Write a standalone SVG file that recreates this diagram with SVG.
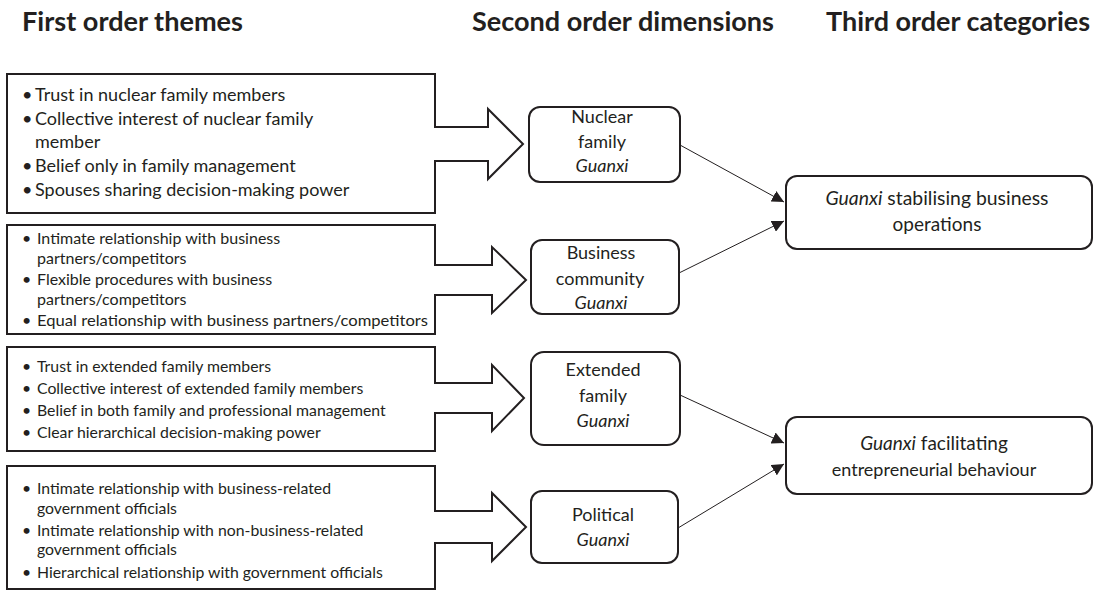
<svg xmlns="http://www.w3.org/2000/svg" width="1096" height="591" viewBox="0 0 1096 591">
<defs>
<style>
.title{font-family:Lato,"Liberation Sans",sans-serif;font-weight:bold;font-size:27px;fill:#231f20}
.t{font-family:Lato,"Liberation Sans",sans-serif;fill:#231f20}
.b1{font-size:18px}
.b2{font-size:16px}
.b3{font-size:15.8px}
.n{font-size:18px;text-anchor:middle}
.c{font-size:19px;text-anchor:middle}
.box{fill:#fff;stroke:#231f20;stroke-width:2}
.rbox{fill:#fff;stroke:#231f20;stroke-width:2}
.con{stroke:#231f20;stroke-width:1;fill:none;marker-end:url(#ah)}
</style>
<marker id="ah" viewBox="0 0 12 12" refX="12" refY="6" markerWidth="12" markerHeight="12" markerUnits="userSpaceOnUse" orient="auto">
<path d="M0,0 L12,6 L0,12 Z" fill="#231f20"/>
</marker>
</defs>
<rect width="1096" height="591" fill="#fff"/>
<g id="titles">
<text class="title" x="22" y="31" textLength="221" lengthAdjust="spacingAndGlyphs">First order themes</text>
<text class="title" x="472" y="31" textLength="302" lengthAdjust="spacingAndGlyphs">Second order dimensions</text>
<text class="title" x="826" y="31" textLength="264" lengthAdjust="spacingAndGlyphs">Third order categories</text>
</g>
<g id="theme1">
<path class="box" d="M7,74 H435 V127 H488 V109 L523,144 L488,179 V161 H435 V213 H7 Z"/>
<g class="t b1">
<text x="22" y="101">•</text><text x="35" y="101">Trust in nuclear family members</text>
<text x="22" y="125">•</text><text x="35" y="125">Collective interest of nuclear family</text>
<text x="35" y="148">member</text>
<text x="22" y="172">•</text><text x="35" y="172">Belief only in family management</text>
<text x="22" y="196">•</text><text x="35" y="196">Spouses sharing decision-making power</text>
</g>
</g>
<g id="theme2">
<path class="box" d="M7,225 H435 V265 H492 V247 L526,280 L492,313 V295 H435 V334 H7 Z"/>
<g class="t b2">
<text x="22" y="244">•</text><text x="37" y="244">Intimate relationship with business</text>
<text x="37" y="264">partners/competitors</text>
<text x="22" y="285">•</text><text x="37" y="285">Flexible procedures with business</text>
<text x="37" y="305">partners/competitors</text>
<text x="22" y="326">•</text><text x="37" y="326" textLength="391" lengthAdjust="spacingAndGlyphs">Equal relationship with business partners/competitors</text>
</g>
</g>
<g id="theme3">
<path class="box" d="M7,347 H435 V383 H492 V365 L524,398 L492,431 V413 H435 V451 H7 Z"/>
<g class="t b3">
<text x="22" y="372">•</text><text x="37" y="372">Trust in extended family members</text>
<text x="22" y="394">•</text><text x="37" y="394">Collective interest of extended family members</text>
<text x="22" y="416">•</text><text x="37" y="416">Belief in both family and professional management</text>
<text x="22" y="438">•</text><text x="37" y="438">Clear hierarchical decision-making power</text>
</g>
</g>
<g id="theme4">
<path class="box" d="M7,466 H435 V511 H492 V493 L526,527 L492,561 V543 H435 V589 H7 Z"/>
<g class="t b3">
<text x="22" y="494">•</text><text x="37" y="494">Intimate relationship with business-related</text>
<text x="37" y="514">government officials</text>
<text x="22" y="536">•</text><text x="37" y="536">Intimate relationship with non-business-related</text>
<text x="37" y="555">government officials</text>
<text x="22" y="578">•</text><text x="37" y="578">Hierarchical relationship with government officials</text>
</g>
</g>
<g id="dim-nuclear">
<rect class="rbox" x="529" y="107" width="151" height="75" rx="11"/>
<g class="t n"><text x="602" y="123">Nuclear</text><text x="602" y="148">family</text><text x="602" y="172" font-style="italic">Guanxi</text></g>
</g>
<g id="dim-business">
<rect class="rbox" x="531" y="240" width="148" height="74" rx="11"/>
<g class="t n"><text x="601" y="259">Business</text><text x="600" y="285">community</text><text x="601" y="309" font-style="italic">Guanxi</text></g>
</g>
<g id="dim-extended">
<rect class="rbox" x="531" y="352" width="149" height="93" rx="13"/>
<g class="t n"><text x="603" y="376">Extended</text><text x="603" y="402">family</text><text x="603" y="427" font-style="italic">Guanxi</text></g>
</g>
<g id="dim-political">
<rect class="rbox" x="531" y="491" width="147" height="72" rx="11"/>
<g class="t n"><text x="603" y="521">Political</text><text x="603" y="546" font-style="italic">Guanxi</text></g>
</g>
<g id="cat-stabilising">
<rect class="rbox" x="786" y="176" width="306" height="73" rx="11"/>
<g class="t c"><text x="937" y="205" textLength="223" lengthAdjust="spacingAndGlyphs"><tspan font-style="italic">Guanxi</tspan> stabilising business</text><text x="937" y="231">operations</text></g>
</g>
<g id="cat-facilitating">
<rect class="rbox" x="786" y="417" width="306" height="77" rx="11"/>
<g class="t c"><text x="934" y="450"><tspan font-style="italic">Guanxi</tspan> facilitating</text><text x="934" y="476" style="font-size:18px">entrepreneurial behaviour</text></g>
</g>
<g id="connectors">
<line class="con" x1="680" y1="145" x2="784" y2="202"/>
<line class="con" x1="679" y1="273" x2="784" y2="221"/>
<line class="con" x1="680" y1="395" x2="784" y2="443"/>
<line class="con" x1="678" y1="528" x2="784" y2="464"/>
</g>
</svg>
